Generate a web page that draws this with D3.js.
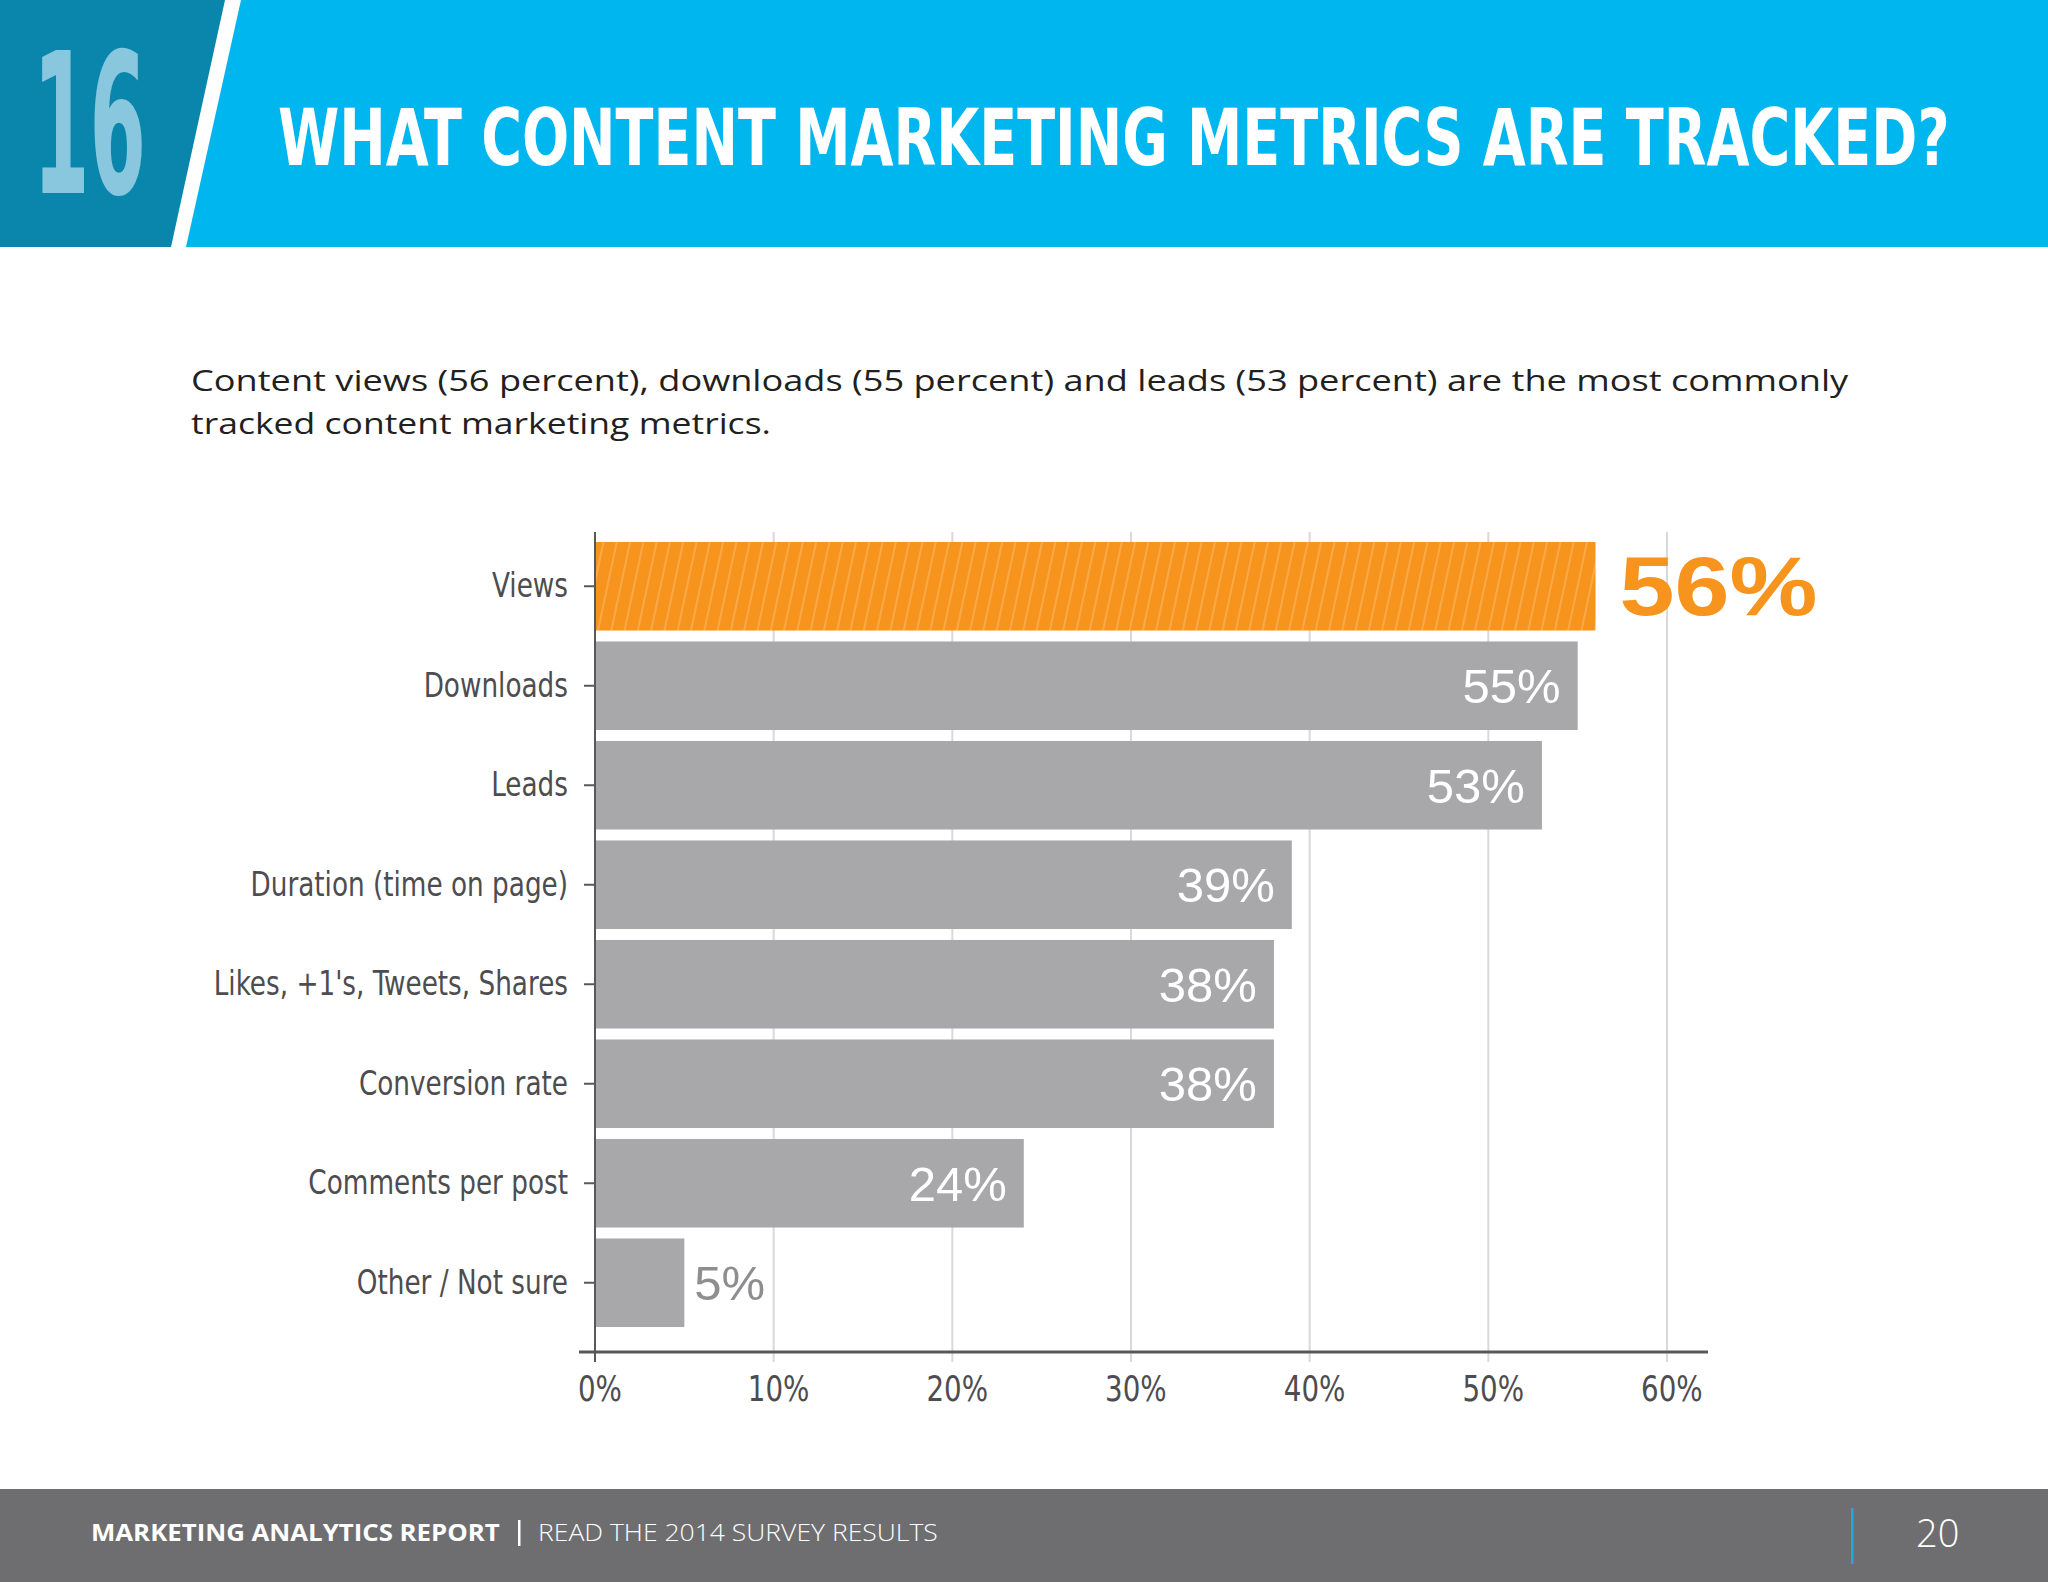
<!DOCTYPE html>
<html><head><meta charset="utf-8">
<script src="https://cdn.jsdelivr.net/npm/d3@7"></script>
<style>html,body{margin:0;padding:0;background:#fff;}svg{display:block;}</style>
</head><body>
<script>
const categories = ["Views","Downloads","Leads","Duration (time on page)","Likes, +1's, Tweets, Shares","Conversion rate","Comments per post","Other / Not sure"];
const values = [56,55,53,39,38,38,24,5];
const highlight = "Views";
const xTicks = [0,10,20,30,40,50,60];
const titleText = "WHAT CONTENT MARKETING METRICS ARE TRACKED?";
const sectionNumber = "16";
const subtitleLines = ["Content views (56 percent), downloads (55 percent) and leads (53 percent) are the most commonly","tracked content marketing metrics."];
const footerBold = "MARKETING ANALYTICS REPORT";
const footerLight = "READ THE 2014 SURVEY RESULTS";
const pageNumber = "20";

const W = 2048, H = 1582;
const svg = d3.select("body").append("svg").attr("width", W).attr("height", H);
const defs = svg.append("defs");
const pat = defs.append("pattern").attr("id","hatch").attr("patternUnits","userSpaceOnUse")
  .attr("width",13).attr("height",40).attr("patternTransform","rotate(12)");
pat.append("rect").attr("width",13).attr("height",40).attr("fill","#f7941d");
pat.append("rect").attr("x",0).attr("width",2).attr("height",40).attr("fill","#fbb15a").attr("opacity",0.7);

const condensed = "'Liberation Sans Narrow','DejaVu Sans Condensed',sans-serif";

// fit text to a target width with a horizontal scale transform
function fitText(sel, x0, y0, width) {
  const len = sel.node().getComputedTextLength();
  sel.attr("x",0).attr("y",0).attr("transform",`translate(${x0},${y0}) scale(${width/len},1)`);
}

// Header
svg.append("polygon").attr("points","0,0 225,0 171,247 0,247").attr("fill","#0a86ad");
svg.append("polygon").attr("points","241,0 2048,0 2048,247 186,247").attr("fill","#00b6ef");
fitText(svg.append("text").text(sectionNumber)
  .attr("font-family",condensed).attr("font-weight","bold")
  .attr("font-size",196).attr("fill","#88c7dd"), 33, 193, 113);
fitText(svg.append("text").text(titleText)
  .attr("font-family",condensed).attr("font-weight","bold")
  .attr("font-size",78).attr("fill","#fff"), 278, 165, 1672);

// Subtitle
const subW = [1658, 580];
subtitleLines.forEach((t,i)=>{
  fitText(svg.append("text").text(t)
    .attr("font-family","'Open Sans','Noto Sans',sans-serif").attr("font-size",30).attr("fill","#231f20"),
    191, 391+i*43, subW[i]);
});

// Chart
const x = d3.scaleLinear().domain([0,60]).range([595,1667]);
const y = d3.scaleBand().domain(categories).range([536.5,1332.5]).paddingInner(0.11).paddingOuter(0.055);

// gridlines
svg.append("g").selectAll("line").data(xTicks.slice(1)).join("line")
  .attr("x1",d=>x(d)).attr("x2",d=>x(d)).attr("y1",532).attr("y2",1362)
  .attr("stroke","#d9d8da").attr("stroke-width",2);

// bars
svg.append("g").selectAll("rect").data(categories).join("rect")
  .attr("x",x(0)).attr("y",d=>y(d)).attr("height",y.bandwidth())
  .attr("width",(d,i)=>x(values[i])-x(0))
  .attr("fill",d=>d===highlight?"url(#hatch)":"#a8a7aa");

// value labels
categories.forEach((c,i)=>{
  const v = values[i];
  const cy = y(c)+y.bandwidth()/2;
  if (c===highlight) {
    fitText(svg.append("text").text(v+"%")
      .attr("font-family","'Liberation Sans',Arial,sans-serif").attr("font-weight","bold")
      .attr("font-size",84).attr("fill","#f7941d"), x(v)+24, cy+29, 198);
  } else if (x(v)-x(0) > 150) {
    svg.append("text").attr("x",x(v)-17).attr("y",cy).attr("dy","0.36em").attr("text-anchor","end").text(v+"%")
      .attr("font-family","'Liberation Sans',Arial,sans-serif").attr("font-size",49).attr("fill","#fff");
  } else {
    svg.append("text").attr("x",x(v)+10).attr("y",cy).attr("dy","0.36em").text(v+"%")
      .attr("font-family","'Liberation Sans',Arial,sans-serif").attr("font-size",49).attr("fill","#8e8d90");
  }
});

// y axis
const sx = 0.86;
const yAxis = svg.append("g").attr("transform","translate(595,0)")
  .call(d3.axisLeft(y).tickSize(11).tickPadding(16));
yAxis.select(".domain").remove();
yAxis.selectAll(".tick line").attr("stroke","#58585a").attr("stroke-width",2);
yAxis.selectAll(".tick text").attr("font-family",condensed).attr("font-size",34).attr("fill","#4d4d4f")
  .attr("x",-27/sx).attr("transform",`scale(${sx},1)`);
svg.append("line").attr("x1",595).attr("x2",595).attr("y1",532).attr("y2",1362).attr("stroke","#58585a").attr("stroke-width",2);

// x axis
const xAxis = svg.append("g").attr("transform","translate(0,1352)")
  .call(d3.axisBottom(x).tickValues(xTicks).tickFormat(d=>d+"%").tickSize(0).tickPadding(24));
xAxis.select(".domain").remove();
xAxis.selectAll(".tick text").attr("font-family",condensed).attr("font-size",35).attr("fill","#4d4d4f")
  .attr("dx",5).attr("transform","scale(0.88,1)");
svg.append("line").attr("x1",579).attr("x2",1708).attr("y1",1352).attr("y2",1352).attr("stroke","#58585a").attr("stroke-width",3);

// Footer
svg.append("rect").attr("x",0).attr("y",1489).attr("width",W).attr("height",H-1489).attr("fill","#6e6e70");
fitText(svg.append("text").text(footerBold)
  .attr("font-family","'Open Sans','Noto Sans',sans-serif").attr("font-weight","bold").attr("font-size",24).attr("fill","#fff"),
  91, 1541, 409);
svg.append("rect").attr("x",518).attr("y",1520).attr("width",2.5).attr("height",26).attr("fill","#fff");
fitText(svg.append("text").text(footerLight)
  .attr("font-family","'Open Sans','Noto Sans',sans-serif").attr("font-weight","300").attr("font-size",24).attr("fill","#fff"),
  538, 1541, 400);
svg.append("rect").attr("x",1851).attr("y",1508).attr("width",2.5).attr("height",56).attr("fill","#1fa8de");
svg.append("text").attr("x",1916).attr("y",1547).text(pageNumber)
  .attr("font-family","'Open Sans','Noto Sans',sans-serif").attr("font-weight","300").attr("font-size",38).attr("fill","#fff");
</script>
</body></html>
